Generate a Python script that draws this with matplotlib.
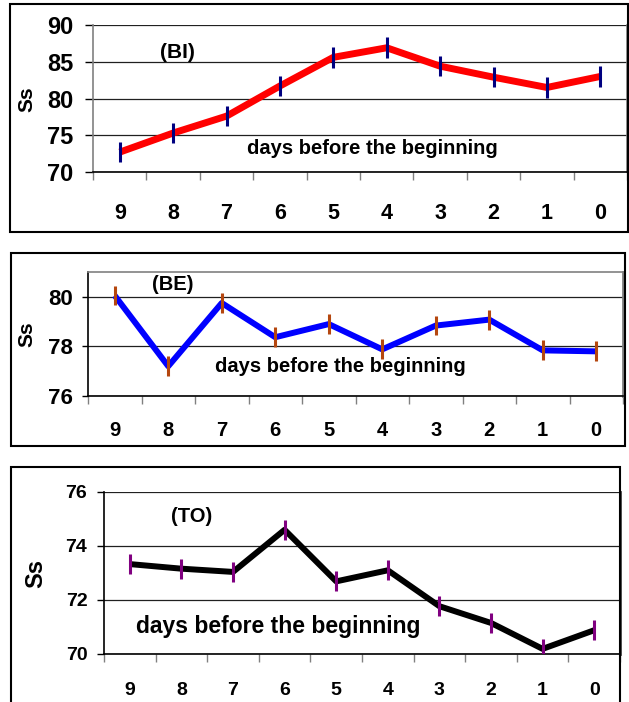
import numpy as np
import matplotlib
matplotlib.use( 'Agg' )
import matplotlib.pyplot as plt
from matplotlib.patches import Rectangle


##  Data
days = [ '9' , '8' , '7' , '6' , '5' , '4' , '3' , '2' , '1' , '0' ]

bi_values = [ 72.7 , 75.3 , 77.6 , 81.7 , 85.6 , 86.9 , 84.4 , 82.9 , 81.5 , 83.0 ]
bi_err    = [ 1.4 , 1.4 , 1.4 , 1.4 , 1.4 , 1.4 , 1.4 , 1.4 , 1.4 , 1.4 ]

be_values = [ 80.05 , 77.2 , 79.75 , 78.37 , 78.9 , 77.88 , 78.84 , 79.08 , 77.84 , 77.8 ]
be_err    = [ 0.4 , 0.4 , 0.4 , 0.4 , 0.4 , 0.4 , 0.4 , 0.4 , 0.4 , 0.4 ]

to_values = [ 73.33 , 73.16 , 73.04 , 74.6 , 72.69 , 73.1 , 71.77 , 71.15 , 70.19 , 70.88 ]
to_err    = [ 0.37 , 0.37 , 0.37 , 0.37 , 0.37 , 0.37 , 0.37 , 0.37 , 0.37 , 0.37 ]


plt.rcParams['font.family'] = 'Liberation Sans'
plt.rcParams['font.weight'] = 'bold'

W , H = 629 , 702
fig = plt.figure( figsize=( W/100 , H/100 ) , dpi=100 )


##  Pixel helpers (origin top left)
def rect( l , t , r , b ):
    return [ l/W , 1 - b/H , ( r - l )/W , ( b - t )/H ]

def frame( l , t , r , b ):
    fig.patches.append( Rectangle( ( l/W , 1 - b/H ) , ( r - l )/W , ( b - t )/H ,
                                   transform=fig.transFigure , fill=False ,
                                   edgecolor='black' , linewidth=1.5 ) )


def panel( box , values , err , line_color , err_color , ylim , yticks ,
           tag , tag_xy , text_xy , ylab_xy ,
           ytick_size , xtick_size , ylab_size , tag_size , text_size , xpad ,
           ytick_len , ytick_pad , line_width=4.3 ):

    ax = fig.add_axes( rect( *box ) )
    x = np.arange( len( values ) )

    ax.plot( x , values , color=line_color , linewidth=line_width ,
             solid_capstyle='butt' , zorder=3 )
    ax.errorbar( x , values , yerr=err , fmt='none' , ecolor=err_color ,
                 elinewidth=2.2 , capsize=0 , zorder=4 )

    ax.set_xlim( -0.5 , len( values ) - 0.5 )
    ax.set_ylim( *ylim )
    ax.set_yticks( yticks )
    ax.set_yticklabels( [ '%d' % v for v in yticks ] , fontsize=ytick_size ,
                        fontweight='bold' )

    ##  Excel style category axis: marks between, labels in the middle
    ax.set_xticks( np.arange( -0.5 , len( values ) ) )
    ax.set_xticklabels( [] )
    ax.set_xticks( x , minor=True )
    ax.set_xticklabels( days , minor=True , fontsize=xtick_size ,
                        fontweight='bold' )
    ax.tick_params( axis='x' , which='major' , length=5.5 , width=1 ,
                    color='#808080' , direction='out' )
    ax.tick_params( axis='x' , which='minor' , length=0 , pad=xpad )
    ax.tick_params( axis='y' , length=ytick_len , width=1 , direction='out' ,
                    pad=ytick_pad )

    ax.grid( axis='y' , color='#202020' , linewidth=0.9 )
    ax.set_axisbelow( True )

    for s in ax.spines.values():
        s.set_color( '#808080' )
        s.set_linewidth( 1.2 )
    ax.spines['bottom'].set_color( 'black' )
    ax.spines['left'].set_color( 'black' )

    ##  label coords give the right edge of the rotated text
    ax.set_ylabel( 'Ss' , fontsize=ylab_size , fontweight='bold' )
    ax.yaxis.set_label_coords( ylab_xy[0]/W , 1 - ylab_xy[1]/H ,
                               transform=fig.transFigure )

    fig.text( tag_xy[0]/W , 1 - tag_xy[1]/H , tag , fontsize=tag_size ,
              fontweight='bold' , ha='center' , va='center' )
    fig.text( text_xy[0]/W , 1 - text_xy[1]/H , 'days before the beginning' ,
              fontsize=text_size , fontweight='bold' , ha='center' , va='center' )
    return ax


##  (BI)
frame( 10 , 4 , 628 , 232 )
ax1 = panel( ( 93 , 25 , 627 , 172 ) , bi_values , bi_err , '#FF0000' , '#000080' ,
             ( 70 , 90 ) , [ 70 , 75 , 80 , 85 , 90 ] ,
             '(BI)' , ( 177 , 52 ) , ( 372 , 148 ) , ( 36 , 99 ) ,
             17 , 15.5 , 15 , 15 , 14.5 , 22 , 5.8 , 8.5 , line_width=5 )
ax1.spines['left'].set_color( '#808080' )
ax1.spines['top'].set_visible( False )

##  (BE)
frame( 11 , 253 , 625 , 446 )
ax2 = panel( ( 88 , 272 , 623 , 396 ) , be_values , be_err , '#0000FF' , '#B5470F' ,
             ( 76 , 81 ) , [ 76 , 78 , 80 ] ,
             '(BE)' , ( 173 , 284 ) , ( 340 , 366 ) , ( 36 , 334 ) ,
             16 , 14.5 , 15 , 14.5 , 14.5 , 18 , 4.3 , 6.5 , line_width=4.3 )
ax2.spines['right'].set_linewidth( 2 )

##  (TO)
frame( 11 , 467 , 620 , 710 )
ax3 = panel( ( 104 , 492 , 620 , 654 ) , to_values , to_err , 'black' , '#800080' ,
             ( 70 , 76 ) , [ 70 , 72 , 74 , 76 ] ,
             '(TO)' , ( 192 , 517 ) , ( 278 , 627 ) , ( 47 , 574 ) ,
             14 , 14 , 17 , 14.5 , 16.5 , 20 , 5 , 7 , line_width=4.3 )
ax3.spines['top'].set_visible( False )
ax3.spines['right'].set_color( '#404040' )
ax3.spines['right'].set_linewidth( 2 )

fig.savefig( 'out.png' , dpi=100 )
